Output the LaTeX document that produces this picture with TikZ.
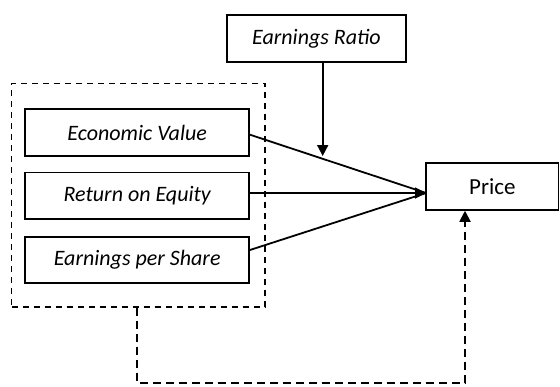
\documentclass[tikz,border=0pt]{standalone}
\usepackage{fontspec}
\setmainfont{Carlito}
\usetikzlibrary{arrows.meta}
\begin{document}
\begin{tikzpicture}[x=1pt,y=-1pt,
  box/.style={draw, line width=1.8pt, inner sep=0pt, minimum height=47pt, font=\fontsize{22}{26}\selectfont\itshape},
  grpbox/.style={draw, dashed, dash pattern=on 6pt off 5pt, line width=1.6pt, inner sep=0pt},
  conn/.style={line width=1.8pt, -{Triangle[length=11pt,width=11pt]}},
  dconn/.style={line width=1.8pt, dash pattern=on 8pt off 5pt, -{Triangle[length=11pt,width=11pt]}}]
\useasboundingbox (0,0) rectangle (560,386);
\clip (0,0) rectangle (560,386);
\node[box, minimum width=179pt] (er) at (316.5,38.5) {Earnings Ratio};
\node[grpbox, minimum width=253.3pt, minimum height=223.4pt] (grp) at (138.3,195) {};
\node[box, minimum width=223.7pt, minimum height=46.7pt] (ev) at (137.2,132.7) {Economic Value};
\node[box, minimum width=223.7pt, minimum height=46.7pt] (roe) at (137.2,195.8) {Return on Equity};
\node[box, minimum width=223.7pt, minimum height=46.7pt] (eps) at (137.2,260) {Earnings per Share};
\node[box, font=\fontsize{23}{27}\selectfont, minimum width=132.5pt, minimum height=46.7pt] (price) at (492.3,186.5) {Price};
\coordinate (m) at (426,193);
\coordinate (ertip) at (322.7,156);
\coordinate (fb1) at (137,382.7);
\coordinate (fb2) at (465,382.7);
\draw[line width=1.8pt] ([yshift=-2pt]ev.east) -- (m);
\draw[line width=1.8pt] ([yshift=10pt]eps.east) -- (m);
\draw[conn] (roe.east |- m) -- (m);
\draw[conn] (er.south -| ertip) -- (ertip);
\draw[dconn] (grp.south -| fb1) -- (fb1) -- (fb2) -- (price.south -| fb2);
\end{tikzpicture}
\end{document}
